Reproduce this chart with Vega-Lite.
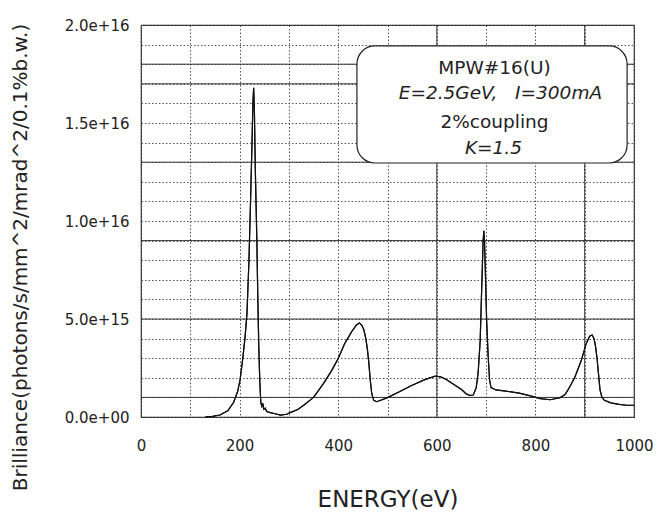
{
  "$schema": "https://vega.github.io/schema/vega-lite/v6.json",
  "width": 493,
  "height": 392,
  "autosize": {"type": "none"},
  "padding": {"left": 141, "top": 25, "right": 33, "bottom": 97},
  "background": "white",
  "config": {
    "view": {"stroke": "#222", "strokeWidth": 1.2},
    "axis": {
      "labelFont": "DejaVu Sans",
      "titleFont": "DejaVu Sans",
      "labelColor": "#222",
      "titleColor": "#222",
      "titleFontWeight": "normal",
      "grid": true,
      "gridDash": [1.5, 2],
      "gridColor": "#555",
      "gridWidth": 1,
      "ticks": false,
      "domain": false,
      "labelOverlap": false,
      "labelFlush": false,
      "labelFontSize": 15
    },
    "axisX": {
      "labelPadding": 21,
      "titleFontSize": 23,
      "titleBaseline": "top",
      "titleY": 71
    },
    "axisY": {
      "labelPadding": 12,
      "titleFontSize": 20,
      "titleAngle": -90,
      "titleX": -121,
      "titleY": 232,
      "titleAlign": "center",
      "titleBaseline": "middle"
    }
  },
  "datasets": {
    "curve": [
      {"energy": 130, "brilliance": 0},
      {"energy": 145, "brilliance": 3e13},
      {"energy": 160, "brilliance": 1e14},
      {"energy": 176, "brilliance": 3.2e14},
      {"energy": 188, "brilliance": 7.5e14},
      {"energy": 196, "brilliance": 1.3e15},
      {"energy": 201, "brilliance": 1.9e15},
      {"energy": 206, "brilliance": 2.9e15},
      {"energy": 211, "brilliance": 4.05e15},
      {"energy": 215, "brilliance": 5.3e15},
      {"energy": 219, "brilliance": 8.0e15},
      {"energy": 222, "brilliance": 1.08e16},
      {"energy": 225, "brilliance": 1.38e16},
      {"energy": 227, "brilliance": 1.6e16},
      {"energy": 228.5, "brilliance": 1.68e16},
      {"energy": 230, "brilliance": 1.56e16},
      {"energy": 232, "brilliance": 1.25e16},
      {"energy": 235, "brilliance": 9.0e15},
      {"energy": 237, "brilliance": 6.0e15},
      {"energy": 239, "brilliance": 3.5e15},
      {"energy": 241, "brilliance": 1.8e15},
      {"energy": 243, "brilliance": 7.5e14},
      {"energy": 245, "brilliance": 5.5e14},
      {"energy": 247, "brilliance": 7e14},
      {"energy": 249, "brilliance": 4e14},
      {"energy": 252, "brilliance": 4.5e14},
      {"energy": 255, "brilliance": 2.8e14},
      {"energy": 262, "brilliance": 2.2e14},
      {"energy": 270, "brilliance": 1.8e14},
      {"energy": 283, "brilliance": 1e14},
      {"energy": 295, "brilliance": 1.4e14},
      {"energy": 305, "brilliance": 2.5e14},
      {"energy": 318, "brilliance": 3.8e14},
      {"energy": 330, "brilliance": 6e14},
      {"energy": 350, "brilliance": 1.0e15},
      {"energy": 370, "brilliance": 1.7e15},
      {"energy": 387, "brilliance": 2.38e15},
      {"energy": 400, "brilliance": 2.98e15},
      {"energy": 413, "brilliance": 3.74e15},
      {"energy": 427, "brilliance": 4.34e15},
      {"energy": 437, "brilliance": 4.7e15},
      {"energy": 443, "brilliance": 4.8e15},
      {"energy": 448, "brilliance": 4.68e15},
      {"energy": 452, "brilliance": 4.45e15},
      {"energy": 456, "brilliance": 4.0e15},
      {"energy": 459, "brilliance": 3.5e15},
      {"energy": 462, "brilliance": 2.8e15},
      {"energy": 465, "brilliance": 1.9e15},
      {"energy": 468, "brilliance": 1.2e15},
      {"energy": 472, "brilliance": 8.5e14},
      {"energy": 478, "brilliance": 7.8e14},
      {"energy": 485, "brilliance": 8.4e14},
      {"energy": 500, "brilliance": 9.9e14},
      {"energy": 523, "brilliance": 1.28e15},
      {"energy": 550, "brilliance": 1.62e15},
      {"energy": 577, "brilliance": 1.92e15},
      {"energy": 597, "brilliance": 2.08e15},
      {"energy": 608, "brilliance": 2.05e15},
      {"energy": 620, "brilliance": 1.9e15},
      {"energy": 637, "brilliance": 1.62e15},
      {"energy": 650, "brilliance": 1.4e15},
      {"energy": 660, "brilliance": 1.18e15},
      {"energy": 667, "brilliance": 1.1e15},
      {"energy": 674, "brilliance": 1.12e15},
      {"energy": 680, "brilliance": 1.5e15},
      {"energy": 684, "brilliance": 2.3e15},
      {"energy": 688, "brilliance": 3.9e15},
      {"energy": 691, "brilliance": 6.5e15},
      {"energy": 694, "brilliance": 9.0e15},
      {"energy": 695.5, "brilliance": 9.5e15},
      {"energy": 697, "brilliance": 8.8e15},
      {"energy": 699, "brilliance": 7.0e15},
      {"energy": 701, "brilliance": 5.0e15},
      {"energy": 704, "brilliance": 3.2e15},
      {"energy": 707, "brilliance": 1.9e15},
      {"energy": 710, "brilliance": 1.5e15},
      {"energy": 720, "brilliance": 1.38e15},
      {"energy": 740, "brilliance": 1.32e15},
      {"energy": 767, "brilliance": 1.22e15},
      {"energy": 790, "brilliance": 1.08e15},
      {"energy": 810, "brilliance": 9.4e14},
      {"energy": 830, "brilliance": 8.8e14},
      {"energy": 850, "brilliance": 9.8e14},
      {"energy": 860, "brilliance": 1.15e15},
      {"energy": 867, "brilliance": 1.42e15},
      {"energy": 880, "brilliance": 2.03e15},
      {"energy": 893, "brilliance": 2.88e15},
      {"energy": 903, "brilliance": 3.74e15},
      {"energy": 910, "brilliance": 4.12e15},
      {"energy": 915, "brilliance": 4.18e15},
      {"energy": 919, "brilliance": 4.0e15},
      {"energy": 922, "brilliance": 3.6e15},
      {"energy": 925, "brilliance": 3.0e15},
      {"energy": 928, "brilliance": 2.2e15},
      {"energy": 931, "brilliance": 1.4e15},
      {"energy": 935, "brilliance": 1.0e15},
      {"energy": 940, "brilliance": 8.5e14},
      {"energy": 953, "brilliance": 7.2e14},
      {"energy": 970, "brilliance": 6.4e14},
      {"energy": 985, "brilliance": 6e14},
      {"energy": 1000, "brilliance": 6e14}
    ],
    "solidV": [{"energy": 600}, {"energy": 900}],
    "solidH": [
      {"brilliance": 1e15}, {"brilliance": 5e15}, {"brilliance": 9e15},
      {"brilliance": 1.3e16}, {"brilliance": 1.7e16}, {"brilliance": 1.8e16}
    ],
    "box": [{"energy": 438, "energy2": 986, "brilliance": 1.893e16, "brilliance2": 1.296e16}],
    "plainText": [
      {"label": "MPW#16(U)", "energy": 717, "brilliance": 1.781e16},
      {"label": "2%coupling", "energy": 717, "brilliance": 1.505e16}
    ],
    "italicText": [
      {"label": "E=2.5GeV,\u00a0\u00a0\u00a0I=300mA", "energy": 729, "brilliance": 1.653e16},
      {"label": "K=1.5", "energy": 715, "brilliance": 1.372e16}
    ]
  },
  "layer": [
    {
      "data": {"name": "curve"},
      "mark": {"type": "line", "color": "#111", "strokeWidth": 1.2},
      "encoding": {
        "x": {
          "field": "energy", "type": "quantitative",
          "scale": {"domain": [0, 1000], "nice": false, "zero": false},
          "axis": {
            "values": [0, 100, 200, 300, 400, 500, 600, 700, 800, 900, 1000],
            "labelExpr": "datum.value % 200 == 0 ? format(datum.value, 'd') : ''",
            "title": "ENERGY(eV)"
          }
        },
        "y": {
          "field": "brilliance", "type": "quantitative",
          "scale": {"domain": [0, 2e16], "nice": false},
          "axis": {
            "values": [0, 1e15, 2e15, 3e15, 4e15, 5e15, 6e15, 7e15, 8e15, 9e15, 1e16, 1.1e16, 1.2e16, 1.3e16, 1.4e16, 1.5e16, 1.6e16, 1.7e16, 1.8e16, 1.9e16, 2e16],
            "labelExpr": "datum.value % 5e15 == 0 ? (datum.value == 0 ? '0.0e+00' : format(datum.value, '.1e')) : ''",
            "title": "Brilliance(photons/s/mm^2/mrad^2/0.1%b.w.)"
          }
        }
      }
    },
    {
      "data": {"name": "solidV"},
      "mark": {"type": "rule", "color": "#333", "strokeWidth": 1},
      "encoding": {
        "x": {
          "field": "energy", "type": "quantitative",
          "axis": {
            "values": [0, 100, 200, 300, 400, 500, 600, 700, 800, 900, 1000],
            "labelExpr": "datum.value % 200 == 0 ? format(datum.value, 'd') : ''",
            "title": "ENERGY(eV)"
          }
        }
      }
    },
    {
      "data": {"name": "solidH"},
      "mark": {"type": "rule", "color": "#333", "strokeWidth": 1},
      "encoding": {
        "y": {
          "field": "brilliance", "type": "quantitative",
          "axis": {
            "values": [0, 1e15, 2e15, 3e15, 4e15, 5e15, 6e15, 7e15, 8e15, 9e15, 1e16, 1.1e16, 1.2e16, 1.3e16, 1.4e16, 1.5e16, 1.6e16, 1.7e16, 1.8e16, 1.9e16, 2e16],
            "labelExpr": "datum.value % 5e15 == 0 ? (datum.value == 0 ? '0.0e+00' : format(datum.value, '.1e')) : ''",
            "title": "Brilliance(photons/s/mm^2/mrad^2/0.1%b.w.)"
          }
        }
      }
    },
    {
      "data": {"name": "curve"},
      "mark": {"type": "line", "color": "#111", "strokeWidth": 1.2},
      "encoding": {
        "x": {
          "field": "energy", "type": "quantitative",
          "axis": {
            "values": [0, 100, 200, 300, 400, 500, 600, 700, 800, 900, 1000],
            "labelExpr": "datum.value % 200 == 0 ? format(datum.value, 'd') : ''",
            "title": "ENERGY(eV)"
          }
        },
        "y": {
          "field": "brilliance", "type": "quantitative",
          "axis": {
            "values": [0, 1e15, 2e15, 3e15, 4e15, 5e15, 6e15, 7e15, 8e15, 9e15, 1e16, 1.1e16, 1.2e16, 1.3e16, 1.4e16, 1.5e16, 1.6e16, 1.7e16, 1.8e16, 1.9e16, 2e16],
            "labelExpr": "datum.value % 5e15 == 0 ? (datum.value == 0 ? '0.0e+00' : format(datum.value, '.1e')) : ''",
            "title": "Brilliance(photons/s/mm^2/mrad^2/0.1%b.w.)"
          }
        }
      }
    },
    {
      "data": {"name": "box"},
      "mark": {"type": "rect", "fill": "white", "stroke": "#222", "strokeWidth": 1.2, "cornerRadius": 18},
      "encoding": {
        "x": {
          "field": "energy", "type": "quantitative",
          "axis": {
            "values": [0, 100, 200, 300, 400, 500, 600, 700, 800, 900, 1000],
            "labelExpr": "datum.value % 200 == 0 ? format(datum.value, 'd') : ''",
            "title": "ENERGY(eV)"
          }
        },
        "x2": {"field": "energy2"},
        "y": {
          "field": "brilliance", "type": "quantitative",
          "axis": {
            "values": [0, 1e15, 2e15, 3e15, 4e15, 5e15, 6e15, 7e15, 8e15, 9e15, 1e16, 1.1e16, 1.2e16, 1.3e16, 1.4e16, 1.5e16, 1.6e16, 1.7e16, 1.8e16, 1.9e16, 2e16],
            "labelExpr": "datum.value % 5e15 == 0 ? (datum.value == 0 ? '0.0e+00' : format(datum.value, '.1e')) : ''",
            "title": "Brilliance(photons/s/mm^2/mrad^2/0.1%b.w.)"
          }
        },
        "y2": {"field": "brilliance2"}
      }
    },
    {
      "data": {"name": "plainText"},
      "mark": {"type": "text", "font": "DejaVu Sans", "fontSize": 18.5, "color": "#222", "align": "center", "baseline": "middle"},
      "encoding": {
        "x": {
          "field": "energy", "type": "quantitative",
          "axis": {
            "values": [0, 100, 200, 300, 400, 500, 600, 700, 800, 900, 1000],
            "labelExpr": "datum.value % 200 == 0 ? format(datum.value, 'd') : ''",
            "title": "ENERGY(eV)"
          }
        },
        "y": {
          "field": "brilliance", "type": "quantitative",
          "axis": {
            "values": [0, 1e15, 2e15, 3e15, 4e15, 5e15, 6e15, 7e15, 8e15, 9e15, 1e16, 1.1e16, 1.2e16, 1.3e16, 1.4e16, 1.5e16, 1.6e16, 1.7e16, 1.8e16, 1.9e16, 2e16],
            "labelExpr": "datum.value % 5e15 == 0 ? (datum.value == 0 ? '0.0e+00' : format(datum.value, '.1e')) : ''",
            "title": "Brilliance(photons/s/mm^2/mrad^2/0.1%b.w.)"
          }
        },
        "text": {"field": "label"}
      }
    },
    {
      "data": {"name": "italicText"},
      "mark": {"type": "text", "font": "DejaVu Sans", "fontSize": 18.5, "fontStyle": "italic", "color": "#222", "align": "center", "baseline": "middle"},
      "encoding": {
        "x": {
          "field": "energy", "type": "quantitative",
          "axis": {
            "values": [0, 100, 200, 300, 400, 500, 600, 700, 800, 900, 1000],
            "labelExpr": "datum.value % 200 == 0 ? format(datum.value, 'd') : ''",
            "title": "ENERGY(eV)"
          }
        },
        "y": {
          "field": "brilliance", "type": "quantitative",
          "axis": {
            "values": [0, 1e15, 2e15, 3e15, 4e15, 5e15, 6e15, 7e15, 8e15, 9e15, 1e16, 1.1e16, 1.2e16, 1.3e16, 1.4e16, 1.5e16, 1.6e16, 1.7e16, 1.8e16, 1.9e16, 2e16],
            "labelExpr": "datum.value % 5e15 == 0 ? (datum.value == 0 ? '0.0e+00' : format(datum.value, '.1e')) : ''",
            "title": "Brilliance(photons/s/mm^2/mrad^2/0.1%b.w.)"
          }
        },
        "text": {"field": "label"}
      }
    }
  ]
}
